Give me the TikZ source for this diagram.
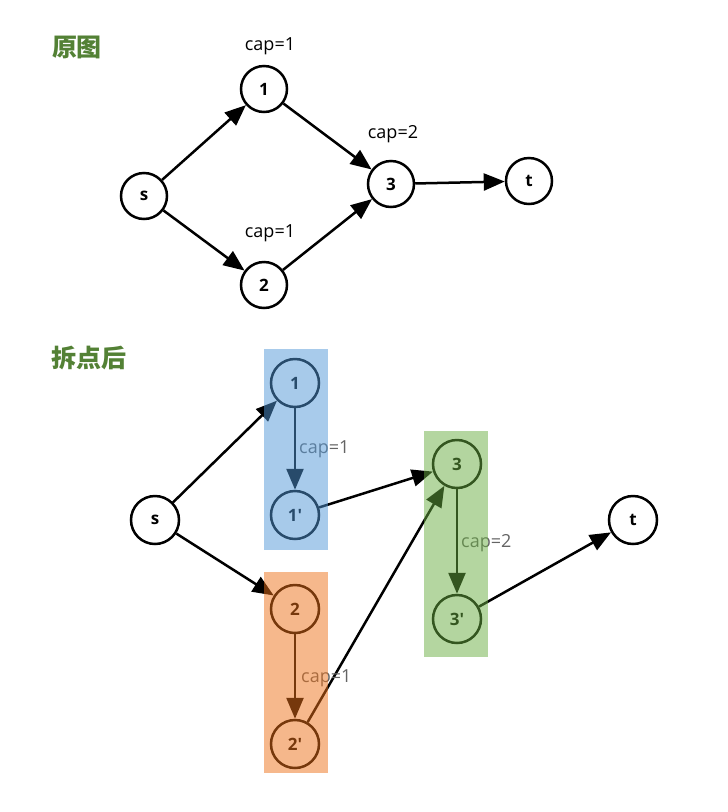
\documentclass[tikz,border=0pt]{standalone}
\usepackage{fontspec}
\setmainfont{Open Sans}
\newfontfamily\cjkfont{Noto Sans CJK SC}
\usetikzlibrary{arrows.meta}
\definecolor{titlegreen}{RGB}{83,129,53}
\definecolor{ovblue}{RGB}{81,151,215}
\definecolor{ovorange}{RGB}{237,113,25}
\definecolor{ovgreen}{RGB}{105,173,65}
\definecolor{capgray}{RGB}{100,100,100}
\newcommand{\apos}{\textquotesingle}
\tikzset{
  vtx/.style={circle, draw=black, line width=2.5pt, fill=white, minimum size=#1, inner sep=0pt, font=\fontsize{17}{17}\selectfont\bfseries},
  vtx/.default=46pt,
  edge/.style={line width=2.5pt, -{Triangle[length=21pt,width=17pt]}},
  caplbl/.style={font=\fontsize{18}{18}\selectfont, inner sep=0pt},
  graycap/.style={font=\fontsize{18}{18}\selectfont, inner sep=0pt, text=capgray, anchor=west},
  ttl/.style={font=\cjkfont\bfseries\fontsize{25}{25}\selectfont, text=titlegreen, inner sep=0pt},
  overlay box/.style={fill=#1, fill opacity=0.5, draw=none}
}
\begin{document}
\begin{tikzpicture}[x=1pt,y=-1pt]
\useasboundingbox (0,0) rectangle (728,812);
% ---------- top: original graph ----------
\node[ttl] (t1) at (77,47) {原图};
\node[vtx] (s) at (144,196) {s};
\node[vtx] (n1) at (264,89) {1};
\node[vtx] (n2) at (264,285) {2};
\node[vtx] (n3) at (391,184) {3};
\node[vtx] (t) at (529,181) {t};
\node[caplbl] (c1) at (270,46) {cap=1};
\node[caplbl] (c2) at (393,134) {cap=2};
\node[caplbl] (c3) at (270,233) {cap=1};
\draw[edge] (s) -- (n1);
\draw[edge] (s) -- (n2);
\draw[edge] (n1) -- (n3);
\draw[edge] (n2) -- (n3);
\draw[edge] (n3) -- (t);
% ---------- bottom: split graph ----------
\node[ttl] (t2) at (89,358) {拆点后};
\node[vtx=48pt] (bs) at (155,520) {s};
\node[vtx=48pt] (b1) at (295,383) {1};
\node[vtx=48pt] (b1p) at (295,515) {1\apos};
\node[vtx=48pt] (b2) at (295,609) {2};
\node[vtx=48pt] (b2p) at (295,744) {2\apos};
\node[vtx=48pt] (b3) at (457,464) {3};
\node[vtx=48pt] (b3p) at (457,619) {3\apos};
\node[vtx=48pt] (bt) at (633,520) {t};
\draw[edge] (bs) -- (b1);
\draw[edge] (bs) -- (b2);
\draw[edge] (b1) -- (b1p);
\draw[edge] (b2) -- (b2p);
\draw[edge] (b3) -- (b3p);
\draw[edge] (b1p) -- (b3);
\draw[edge] (b2p) -- (b3);
\draw[edge] (b3p) -- (bt);
\node[graycap] (bc1) at (299,449) {cap=1};
\node[graycap] (bc2) at (301,678) {cap=1};
\node[graycap] (bc3) at (461,543) {cap=2};
% ---------- overlays ----------
\fill[overlay box=ovblue] (264,349) rectangle (328,550);
\fill[overlay box=ovorange] (264,572) rectangle (328,773);
\fill[overlay box=ovgreen] (424,431) rectangle (488,657);
\end{tikzpicture}
\end{document}
